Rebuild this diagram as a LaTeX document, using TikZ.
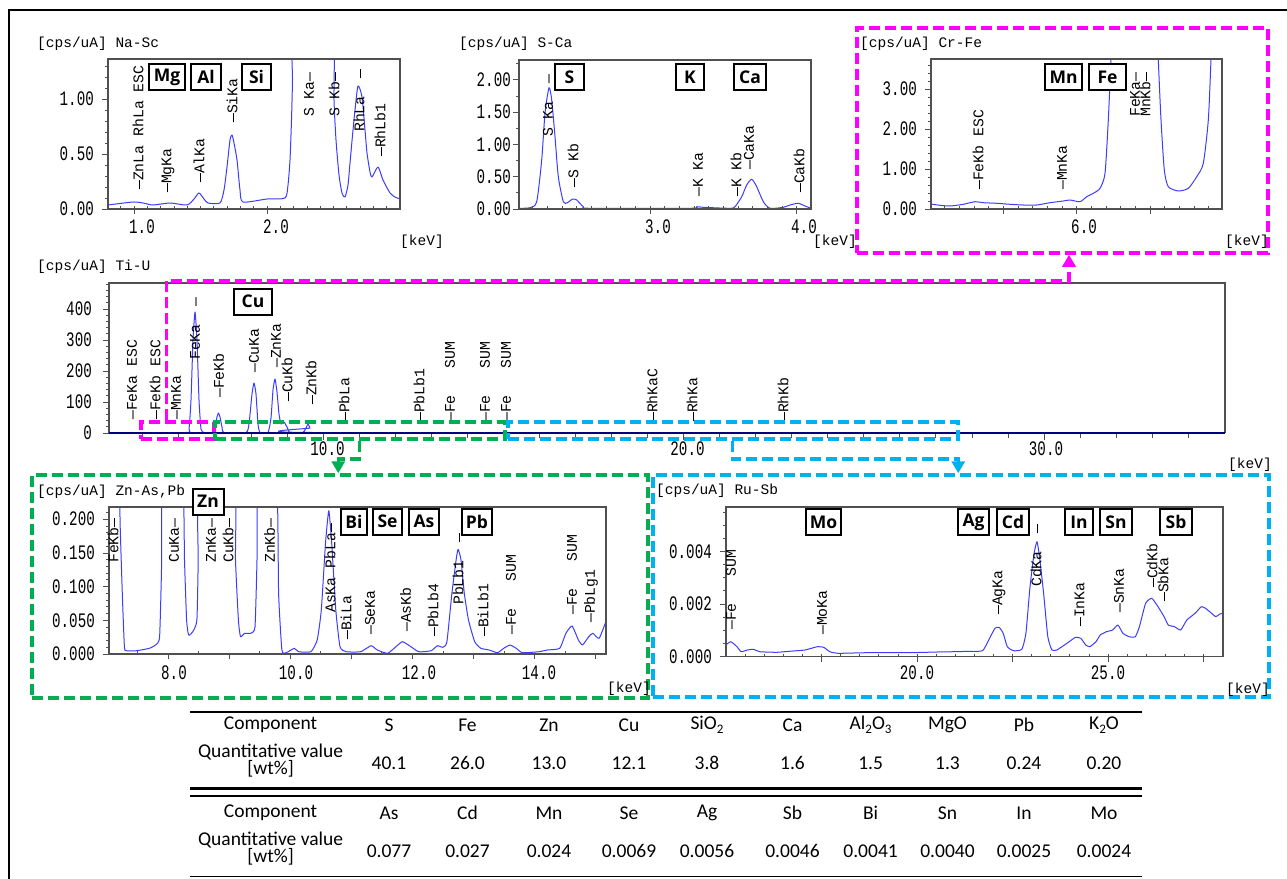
\documentclass[tikz,border=0pt]{standalone}
\usepackage{graphicx}
\usepackage{fontspec}
\setmainfont{Carlito}
\newfontfamily\monof{Liberation Mono}
\newfontfamily\boxf{Open Sans}
\usetikzlibrary{arrows.meta,calc}
\definecolor{hlmag}{HTML}{FF00FF}
\definecolor{hlgrn}{HTML}{00B050}
\definecolor{hlcyn}{HTML}{00B0F0}
\definecolor{specblue}{HTML}{3C3CFF}
\definecolor{axgray}{HTML}{505050}
\newcommand\tallt[1]{\scalebox{1}[1.45]{#1}}
\newcommand\lowsub[1]{\raisebox{-0.4ex}{\fontsize{13}{13}\selectfont #1}}
\newcounter{lbc}
\newcommand\lb[3]{\stepcounter{lbc}\node[lbl] (lab\arabic{lbc}) at (#1,#2) {#3};}
\newcommand\eb[4]{\node[elbox, minimum width=#3pt] (el-#4) at (#1,#2) {#4};}
\newcommand\ytk[3]{\stepcounter{lbc}\node[ytl] (yt\arabic{lbc}) at (#1,#2) {\tallt{#3}};}
\newcommand\xtk[3]{\stepcounter{lbc}\node[xtl] (xt\arabic{lbc}) at (#1,#2) {\tallt{#3}};}
\tikzset{
  lbl/.style={font=\monof\fontsize{14.8}{14.8}\selectfont, inner sep=0pt, rotate=90, anchor=west},
  ttl/.style={font=\monof\fontsize{14.5}{14.5}\selectfont, inner sep=0pt, anchor=west},
  ytl/.style={font=\monof\fontsize{14.2}{14.2}\selectfont, inner sep=0pt, anchor=east},
  xtl/.style={font=\monof\fontsize{14.2}{14.2}\selectfont, inner sep=0pt},
  elbox/.style={draw, line width=2pt, font=\boxf\bfseries\fontsize{17.5}{17.5}\selectfont, minimum height=26pt, inner xsep=2pt, inner ysep=0pt, fill=white},
  pframe/.style={draw=axgray, line width=1.2pt},
  spec/.style={draw=specblue, line width=1pt, line join=round},
  tk/.style={draw=axgray, line width=0.8pt},
  hl/.style={draw=#1, line width=3.5pt, dash pattern=on 11pt off 5pt, minimum width=0pt, inner sep=0pt},
  hlarrow/.style={draw=#1, line width=3.5pt, dash pattern=on 11pt off 5pt, -{Triangle[width=13pt,length=12pt]}},
  tabc/.style={font=\fontsize{19.5}{19.5}\selectfont, inner sep=0pt},
}
\begin{document}
\begin{tikzpicture}[x=1pt,y=-1pt]
\useasboundingbox (0,0) rectangle (1287,878);
\fill[white] (0,0) rectangle (1287,878);
\draw[line width=2.5pt] (9,880) -- (9,10) -- (1290,10);

% ================= Panel 1 : Na-Sc
\node[ttl] (t1) at (37,44) {[cps/uA] Na-Sc};
\begin{scope}
\clip (108,59) rectangle (400,209);
\draw[spec] plot[smooth,tension=0.4] coordinates {(108,205) (133,202) (143,203) (153,205) (170,203) (187,205) (194,199) (199,193) (204,199) (208,203) (220,203) (224,190) (227,167) (230,140) (232,135) (234,143) (237,160) (240,190) (243,202) (267,199) (285,198) (288,185) (290,160) (291.5,120) (292.5,80) (293,40) (313,10) (333,40) (334,100) (336,140) (339,175) (342,193) (345,197) (348,185) (350,163) (353,130) (355,110) (358,86) (362,97) (365,130) (367,153) (370,172) (372,177) (378,167) (383,180) (390,193) (395,197) (400,199)};
\end{scope}
\draw[pframe] (108,59) rectangle (400,209);
\foreach \i in {1,...,13} \draw[tk] (108,{209-11*\i}) -- ++(-3,0);
\foreach \v in {209,154,99} \draw[tk] (108,\v) -- ++(-6,0);
\foreach \i in {-1,...,19} \draw[tk] ({134+13.3*\i},209) -- ++(0,-3);
\foreach \v in {134,267} \draw[tk] (\v,209) -- ++(0,5);
\ytk{94}{209}{0.00} \ytk{94}{154}{0.50} \ytk{94}{99}{1.00}
\xtk{142}{227}{1.0} \xtk{276}{227}{2.0}
\node[ttl] (k1) at (400,242) {[keV]};
\lb{138}{190}{—ZnLa RhLa ESC}
\lb{168}{193}{—MgKa}
\lb{199}{183}{—AlKa}
\lb{232}{123}{—SiKa}
\lb{309}{117}{S Ka—}
\lb{334}{117}{S Kb—}
\lb{359}{132}{RhLa~~—}
\lb{380}{157}{—RhLb1}
\eb{167}{77}{36}{Mg} \eb{206}{77}{30}{Al} \eb{256.5}{77}{29}{Si}

% ================= Panel 2 : S-Ca
\node[ttl] (t2) at (459,44) {[cps/uA] S-Ca};
\begin{scope}
\clip (519,60) rectangle (811,209);
\draw[spec] plot[smooth,tension=0.4] coordinates {(519.3,208.3) (530,207.7) (536.7,201.7) (541.7,160) (545,113.3) (549,87.7) (551.7,100) (555,136.7) (558.3,176.7) (563.3,201.7) (567.3,202.7) (572.7,199) (576.7,200) (583.3,206.7) (590,208.3) (690,208.3) (696.7,206.7) (703.3,207.3) (730,208.3) (735,206.7) (741.7,196.7) (746.7,185) (751.7,179.3) (756.7,186.7) (763.3,201.7) (770,208.3) (783.3,207.3) (790,205) (798.3,203.3) (805,206) (811,208.3)};
\end{scope}
\draw[pframe] (519,60) rectangle (811,209);
\foreach \i in {1,...,9} \draw[tk] (519,{209-16.15*\i}) -- ++(-3,0);
\foreach \i in {0,...,4} \draw[tk] (519,{209-32.3*\i}) -- ++(-6,0);
\foreach \i in {-8,...,10} \draw[tk] ({650+14.67*\i},209) -- ++(0,-3);
\foreach \v in {650,796.7} \draw[tk] (\v,209) -- ++(0,5);
\ytk{511}{209}{0.00} \ytk{511}{176.7}{0.50} \ytk{511}{144.4}{1.00} \ytk{511}{112.1}{1.50} \ytk{511}{79.8}{2.00}
\xtk{658}{227}{3.0} \xtk{804}{227}{4.0}
\node[ttl] (k2) at (813,242) {[keV]};
\lb{548}{137}{S Ka~~—}
\lb{573}{188}{—S Kb}
\lb{698}{197}{—K Ka}
\lb{736}{197}{—K Kb}
\lb{749}{170}{—CaKa}
\lb{799}{193}{—CaKb}
\eb{569.5}{77}{29}{S} \eb{690}{77}{28}{K} \eb{750}{77}{32}{Ca}

% ================= Panel 3 : Cr-Fe
\node[hl=hlmag, minimum width=411pt, minimum height=225pt] (crfe) at (1062.5,140.5) {};
\node[ttl] (t3) at (860,44) {[cps/uA] Cr-Fe};
\begin{scope}
\clip (931,59) rectangle (1222,209);
\draw[spec] plot[smooth,tension=0.4] coordinates {(931,204) (940,205.3) (950,206) (963.3,204.3) (975,201.7) (983.3,202.7) (996.7,203.3) (1010,204.3) (1023.3,205) (1036.7,205) (1050,202.7) (1063.3,201) (1070,200) (1080,201.7) (1086.7,196.7) (1093.3,193.3) (1100,188.3) (1105,173.3) (1108.3,120) (1111,59.3) (1111.7,40) (1135,20) (1158.3,40) (1158.3,59.3) (1161,120) (1164.3,170) (1168.3,186.7) (1178.3,191) (1188.3,188.3) (1196.7,176.7) (1203.3,163.3) (1208.3,120) (1211,59.3) (1211.7,40)};
\end{scope}
\draw[pframe] (931,59) rectangle (1222,209);
\foreach \i in {1,...,18} \draw[tk] (931,{209-8*\i}) -- ++(-3,0);
\foreach \i in {0,...,3} \draw[tk] (931,{209-40*\i}) -- ++(-6,0);
\foreach \i in {-9,...,9} \draw[tk] ({1076.7+14.67*\i},209) -- ++(0,-3);
\foreach \v in {1003.3,1076.7,1150} \draw[tk] (\v,209) -- ++(0,5);
\ytk{917}{209}{0.00} \ytk{917}{169}{1.00} \ytk{917}{129}{2.00} \ytk{917}{89}{3.00}
\xtk{1084}{227}{6.0}
\node[ttl] (k3) at (1225,242) {[keV]};
\lb{978}{190}{—FeKb ESC}
\lb{1062}{190}{—MnKa}
\lb{1135}{117}{FeKa—}
\lb{1145}{117}{MnKb—}
\eb{1063.5}{77}{37}{Mn} \eb{1107.5}{77}{37}{Fe}

% ================= Panel 4 : Ti-U
\node[ttl] (t4) at (37,267) {[cps/uA] Ti-U};
\begin{scope}
\clip (109,283) rectangle (1225,433);
\draw[spec] plot[smooth,tension=0.3] coordinates {(109,432.5) (186,432.5) (189,429) (191,400) (193,340) (195,312) (197,340) (199,400) (201,429) (204,432.5) (213,432.5) (215,427) (217,417) (218.5,413) (220,417) (222,427) (224,432.5) (246,432.5) (249,424) (252,394) (254,383) (256,394) (258,424) (260,432.5) (268,432.5) (271,418) (273,390) (275,379) (277,392) (279,414) (281,424) (284,422) (287,427) (290,432.5) (303,432.5) (306,428) (308,424) (310,428) (313,432.5) (1225,432.5)};
\end{scope}
\draw[pframe] (109,433) -- (109,283) -- (1225,283) -- (1225,433);
\draw[draw=blue!50!black, line width=2pt] (109,433) -- (1225,433);
\foreach \i in {1,...,24} \draw[tk] (109,{433-6.2*\i}) -- ++(-3,0);
\foreach \i in {0,...,4} \draw[tk] (109,{433-31*\i}) -- ++(-6,0);
\foreach \k in {5,...,34} \draw[tk] ({-37.5+36.05*\k},434) -- ++(0,4);
\foreach \k in {10,20,30} \draw[tk] ({-37.5+36.05*\k},434) -- ++(0,6);
\ytk{92}{433}{0} \ytk{92}{402}{100} \ytk{92}{371}{200} \ytk{92}{340}{300} \ytk{92}{309}{400}
\xtk{327.5}{449}{10.0} \xtk{687.5}{449}{20.0} \xtk{1046}{449}{30.0}
\node[ttl] (k4) at (1228,465) {[keV]};
\lb{132}{420}{—FeKa ESC}
\lb{155}{420}{—FeKb ESC}
\lb{176}{420}{—MnKa}
\lb{195}{360}{FeKa~~—}
\lb{218.5}{398}{—FeKb}
\lb{254}{373}{—CuKa}
\lb{276}{368}{—ZnKa}
\lb{287}{402}{—CuKb}
\lb{311}{405}{—ZnKb}
\lb{344}{422}{—PbLa}
\lb{419}{422}{—PbLb1}
\lb{450}{422}{—Fe~~~SUM}
\lb{485}{422}{—Fe~~~SUM}
\lb{506}{422}{—Fe~~~SUM}
\lb{652}{422}{—RhKaC}
\lb{692}{422}{—RhKa}
\lb{783}{422}{—RhKb}
\eb{253}{301.5}{38}{Cu}

% highlight boxes in Ti-U
\node[hl=hlmag, minimum width=73pt, minimum height=17pt] (hlM) at (177.5,430.5) {};
\node[hl=hlgrn, minimum width=290pt, minimum height=17pt] (hlG) at (360,430.5) {};
\node[hl=hlcyn, minimum width=450pt, minimum height=17pt] (hlC) at (733,430.5) {};

% ================= Panel 5 : Zn-As,Pb
\node[hl=hlgrn, minimum width=616pt, minimum height=223pt] (znas) at (340,586.5) {};
\node[ttl] (t5) at (37,492) {[cps/uA] Zn-As,Pb};
\begin{scope}
\clip (109,507) rectangle (606,654);
\draw[spec] plot[smooth,tension=0.3] coordinates {(119.4,480) (120.2,526.7) (122.3,593.3) (124.4,646.7) (126.5,650.7) (136.8,650.7) (149.3,648.3) (155.5,645) (159.6,636.7) (161.7,560) (162.5,480) (182.4,480) (184.5,560) (186.6,620) (188.6,635) (192.8,631.7) (196.9,620) (198.2,560) (199,480) (234.2,480) (235.5,560) (238.4,620) (240.5,636.7) (244.6,633.3) (250.8,633.3) (255,626.7) (257,560) (258.3,480) (276.5,480) (278.6,593.3) (281.9,650) (286.1,652.7) (294.4,648.3) (298.5,651.7) (310.9,651.7) (317.2,640) (321.3,610) (325.5,543.3) (328.8,510.7) (331.7,543.3) (335.8,610) (340,646.7) (346.2,651.7) (360.7,651.7) (371.1,645.7) (377.3,650) (387.6,653.3) (395.9,646.7) (402.2,641.7) (408.4,645) (418.7,651.7) (431.2,650.7) (437.4,645.7) (442.8,647.3) (446.9,641.7) (451.9,593.3) (456.1,560) (458.1,549.3) (461,560) (464.3,593.3) (468.5,620) (474.7,641.7) (480.9,648.3) (489.2,650) (497.5,652.7) (503.7,648.3) (510,645) (516.2,648.3) (522.4,652.7) (539,651.7) (547.3,650) (559.7,648.3) (565.9,633.3) (572.1,626) (578.4,640) (582.5,645) (588.7,636.7) (592.9,633.3) (599.1,638.3) (606.1,621)};
\end{scope}
\draw[pframe] (109,507) rectangle (606,654);
\foreach \i in {1,...,21} \draw[tk] (109,{654-6.74*\i}) -- ++(-3,0);
\foreach \i in {0,...,4} \draw[tk] (109,{654-33.7*\i}) -- ++(-6,0);
\foreach \k in {7.5,8.5,...,14.5} \draw[tk] ({168+61.1*(\k-8)},654) -- ++(0,-3);
\foreach \k in {8,...,15} \draw[tk] ({168+61.1*(\k-8)},654) -- ++(0,5);
\ytk{95}{654}{0.000} \ytk{95}{620.3}{0.050} \ytk{95}{586.6}{0.100} \ytk{95}{552.9}{0.150} \ytk{95}{519.2}{0.200}
\xtk{174}{673}{8.0} \xtk{296}{673}{10.0} \xtk{419}{673}{12.0} \xtk{539}{673}{14.0}
\node[ttl] (k5) at (607,689) {[keV]};
\lb{113}{563}{FeKb—}
\lb{174}{563}{CuKa—}
\lb{211}{563}{ZnKa—}
\lb{228}{563}{CuKb—}
\lb{269.5}{563}{ZnKb—}
\lb{330}{613}{AsKa PbLa—}
\lb{346}{640}{—BiLa}
\lb{370}{635}{—SeKa}
\lb{405.5}{632}{—AsKb}
\lb{433}{637}{—PbLb4}
\lb{458}{605}{PbLb1~~—}
\lb{483}{637}{—BiLb1}
\lb{511}{635}{—Fe~~~SUM}
\lb{572}{615}{—Fe~~~SUM}
\lb{591}{623}{—PbLg1}
\eb{208}{501.5}{31}{Zn}
\eb{354}{521.5}{26}{Bi} \eb{387.5}{521.5}{29}{Se} \eb{424}{521.5}{30}{As} \eb{477}{521.5}{30}{Pb}

% ================= Panel 6 : Ru-Sb
\node[hl=hlcyn, minimum width=616pt, minimum height=222pt] (rusb) at (961,586) {};
\node[ttl] (t6) at (656,491) {[cps/uA] Ru-Sb};
\begin{scope}
\clip (726,507) rectangle (1223,656.5);
\draw[spec] plot[smooth,tension=0.3] coordinates {(725.8,645) (730.8,641.7) (737,646.7) (741.1,651.7) (747.3,650) (753.5,649.3) (759.7,651.7) (776.2,652.3) (784.4,651.7) (796.8,650.7) (805.1,650) (811.3,648.3) (817.5,646.7) (823.7,647.3) (829.8,651.7) (838.1,653.3) (867,652.7) (908.3,652.7) (937.2,652) (953.7,651.7) (970.2,651.3) (982.6,650.7) (988.7,640) (994.9,628.3) (999.1,627.3) (1003.2,633.3) (1007.3,646.7) (1013.5,650.7) (1021.8,649.3) (1025.9,633.3) (1030,586.7) (1034.1,553.3) (1037,541.7) (1039.5,556.7) (1043.6,593.3) (1047.8,636.7) (1051.9,650) (1056.8,650) (1061,647.3) (1069.2,641.7) (1075.4,637.3) (1080.8,638.3) (1085.7,645) (1089.8,646.7) (1096,641.7) (1100.2,635) (1106.4,631.7) (1112.6,630) (1117.9,625) (1122.9,633.3) (1129.1,636.7) (1135.3,636.7) (1139.4,626.7) (1145.6,603.3) (1151.8,598.3) (1158,606.7) (1164.1,616.7) (1168.3,625) (1174.5,626.7) (1180.7,630) (1186.8,620) (1195.1,613.3) (1201.3,606.7) (1205.5,608.3) (1211.6,613.3) (1215.7,616.7) (1219.9,614) (1222.8,613.3)};
\end{scope}
\draw[pframe] (726,507) rectangle (1223,656.5);
\foreach \i in {1,...,11} \draw[tk] (726,{656.5-13.125*\i}) -- ++(-3,0);
\foreach \i in {0,...,2} \draw[tk] (726,{656.5-52.5*\i}) -- ++(-6,0);
\foreach \k in {15.5,16,...,27.5} \draw[tk] ({917+38.2*(\k-20)},656.5) -- ++(0,-3);
\foreach \k in {17.5,20,22.5,25,27.5} \draw[tk] ({917+38.2*(\k-20)},656.5) -- ++(0,5);
\ytk{712}{656.5}{0.000} \ytk{712}{604}{0.002} \ytk{712}{551.5}{0.004}
\xtk{917}{673}{20.0} \xtk{1108}{673}{25.0}
\node[ttl] (k6) at (1226,690) {[keV]};
\lb{731}{630}{—Fe~~~SUM}
\lb{822}{635}{—MoKa}
\lb{999}{615}{—AgKa}
\lb{1036}{587}{CdKa~~—}
\lb{1079.5}{627}{—InKa}
\lb{1119}{613}{—SnKa}
\lb{1152}{588}{—CdKb}
\lb{1163}{602}{—SbKa}
\eb{823.5}{522}{35}{Mo} \eb{973.5}{522}{31}{Ag} \eb{1013}{522}{32}{Cd} \eb{1079}{522}{28}{In} \eb{1116}{522}{32}{Sn} \eb{1176}{522}{32}{Sb}

% ================= connectors
\coordinate (mA) at ($(hlM.north west)+(27,0)$);
\coordinate (mB) at ($(crfe.south)+(6.5,26)$);
\draw[hlarrow=hlmag] (mA) |- (mB) -- (crfe.south -| mB);
\coordinate (gA) at ($(hlG.south west)+(146,0)$);
\coordinate (gT) at ($(znas.north west)+(308,0)$);
\draw[hlarrow=hlgrn] (gA) -- ++(0,18) -| (gT);
\coordinate (cA) at ($(hlC.south west)+(226,0)$);
\coordinate (cT) at ($(rusb.north west)+(307,0)$);
\draw[hlarrow=hlcyn] (cA) -- ++(0,18) -| (cT);

% ================= table
\draw[line width=1.5pt] (190,712) -- (1142,712);
\draw[line width=2.5pt] (190,788.5) -- (1142,788.5);
\draw[line width=2.5pt] (190,796) -- (1142,796);
\draw[line width=1.5pt] (190,876.5) -- (1142,876.5);
\node[tabc] (ha0) at (270.6,725) {Component};
\node[tabc] (qa1) at (270.6,752) {Quantitative value};
\node[tabc] (qa2) at (270.6,769) {[wt\%]};
\foreach \x/\t/\v [count=\i] in {389/S/40.1, 467.5/Fe/26.0, 549/Zn/13.0, 629/Cu/12.1, 707/SiO\lowsub{2}/3.8, 792.5/Ca/1.6, 870.6/Al\lowsub{2}O\lowsub{3}/1.5, 947.5/MgO/1.3, 1024/Pb/0.24, 1104/K\lowsub{2}O/0.20}{
  \node[tabc] (ha\i) at (\x,725) {\t};
  \node[tabc] (va\i) at (\x,763) {\v};
}
\node[tabc] (hb0) at (270.6,813) {Component};
\node[tabc] (qb1) at (270.6,840) {Quantitative value};
\node[tabc] (qb2) at (270.6,857) {[wt\%]};
\foreach \x/\t/\v [count=\i] in {389/As/0.077, 467.5/Cd/0.027, 549/Mn/0.024, 629/Se/0.0069, 707/Ag/0.0056, 792.5/Sb/0.0046, 870.6/Bi/0.0041, 947.5/Sn/0.0040, 1024/In/0.0025, 1104/Mo/0.0024}{
  \node[tabc] (hb\i) at (\x,813) {\t};
  \node[tabc] (vb\i) at (\x,851) {\v};
}
\end{tikzpicture}
\end{document}
